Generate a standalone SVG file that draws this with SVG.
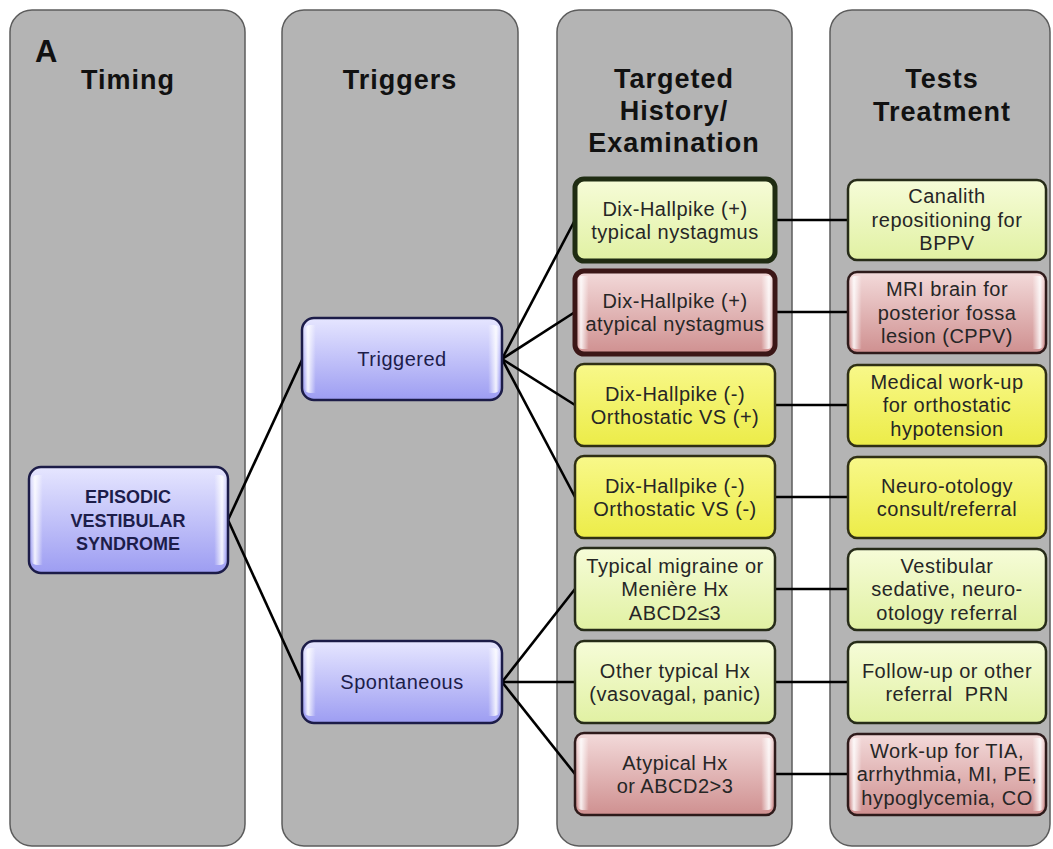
<svg xmlns="http://www.w3.org/2000/svg" width="1053" height="849" viewBox="0 0 1053 849">
<defs>
<linearGradient id="gBlue" x1="0" y1="0" x2="0" y2="1"><stop offset="0" stop-color="#e6e6ff"/><stop offset="1" stop-color="#9d9df2"/></linearGradient>
<linearGradient id="gGreen" x1="0" y1="0" x2="0" y2="1"><stop offset="0" stop-color="#f6fcd8"/><stop offset="1" stop-color="#e1f1a3"/></linearGradient>
<linearGradient id="gPink" x1="0" y1="0" x2="0" y2="1"><stop offset="0" stop-color="#f3dada"/><stop offset="1" stop-color="#cf9090"/></linearGradient>
<linearGradient id="gYellow" x1="0" y1="0" x2="0" y2="1"><stop offset="0" stop-color="#f8f88a"/><stop offset="1" stop-color="#ecec48"/></linearGradient>
<linearGradient id="gGloss" x1="0" y1="0" x2="1" y2="0"><stop offset="0" stop-color="#fff" stop-opacity="0"/><stop offset="0.02" stop-color="#fff" stop-opacity="0.85"/><stop offset="0.06" stop-color="#fff" stop-opacity="0"/><stop offset="0.94" stop-color="#fff" stop-opacity="0"/><stop offset="0.98" stop-color="#fff" stop-opacity="0.85"/><stop offset="1" stop-color="#fff" stop-opacity="0"/></linearGradient>
</defs>
<style>
.panel{fill:#b4b4b4;stroke:#5c5c5c;stroke-width:1.5}
.hdr{font-family:"Liberation Sans",Arial,sans-serif;font-weight:bold;font-size:27px;letter-spacing:1px;fill:#111;text-anchor:middle}
.lbl{font-family:"Liberation Sans",Arial,sans-serif;font-size:20px;letter-spacing:0.5px;fill:#262626;text-anchor:middle}
.blbl{font-family:"Liberation Sans",Arial,sans-serif;font-size:20px;letter-spacing:0.5px;fill:#1d1d4a;text-anchor:middle}
.bold{font-weight:bold;font-size:18px;letter-spacing:0}
.blue{fill:url(#gBlue);stroke:#1c1c48;stroke-width:2.5}
.green{fill:url(#gGreen);stroke:#262b18;stroke-width:2.5}
.pink{fill:url(#gPink);stroke:#2e1a1a;stroke-width:2.5}
.yellow{fill:url(#gYellow);stroke:#2f2f14;stroke-width:2.5}
.thickg{stroke:#1f2c12;stroke-width:5}
.thickp{stroke:#3b1616;stroke-width:5}
.gloss{fill:url(#gGloss);stroke:none}
.conn line{stroke:#000;stroke-width:2.6}
</style>

<g id="panels">
<rect class="panel" x="10" y="10" width="235" height="836" rx="22"/>
<rect class="panel" x="282" y="10" width="236" height="836" rx="22"/>
<rect class="panel" x="557" y="10" width="235" height="836" rx="22"/>
<rect class="panel" x="830" y="10" width="220" height="836" rx="22"/>
<text x="35" y="62" font-family="Liberation Sans, Arial, sans-serif" font-weight="bold" font-size="31" fill="#111">A</text>
<text class="hdr" x="128" y="89">Timing</text>
<text class="hdr" x="400" y="89">Triggers</text>
<text class="hdr" x="674" y="88">Targeted</text>
<text class="hdr" x="674" y="120">History/</text>
<text class="hdr" x="674" y="152">Examination</text>
<text class="hdr" x="942" y="88">Tests</text>
<text class="hdr" x="942" y="121">Treatment</text>
</g>

<g id="connectors" class="conn">
<line x1="228" y1="520" x2="302" y2="360"/>
<line x1="228" y1="520" x2="302" y2="682"/>
<line x1="502" y1="359" x2="575" y2="220"/>
<line x1="502" y1="359" x2="575" y2="312"/>
<line x1="502" y1="359" x2="575" y2="405"/>
<line x1="502" y1="359" x2="575" y2="497"/>
<line x1="502" y1="682" x2="575" y2="589"/>
<line x1="502" y1="682" x2="575" y2="682"/>
<line x1="502" y1="682" x2="575" y2="774"/>
<line x1="775" y1="220" x2="848" y2="220"/>
<line x1="775" y1="312" x2="848" y2="312"/>
<line x1="775" y1="405" x2="848" y2="405"/>
<line x1="775" y1="497" x2="848" y2="497"/>
<line x1="775" y1="589" x2="848" y2="589"/>
<line x1="775" y1="682" x2="848" y2="682"/>
<line x1="775" y1="774" x2="848" y2="774"/>
</g>

<g id="n-evs">
<rect class="blue" x="29" y="467" width="199" height="106" rx="12"/>
<rect class="gloss" x="31" y="475" width="195" height="90" rx="6"/>
<text class="blbl bold" x="128" y="503">EPISODIC</text>
<text class="blbl bold" x="128" y="527">VESTIBULAR</text>
<text class="blbl bold" x="128" y="550">SYNDROME</text>
</g>
<g id="n-triggered">
<rect class="blue" x="302" y="318" width="200" height="82" rx="12"/>
<rect class="gloss" x="304" y="325" width="196" height="68" rx="6"/>
<text class="blbl" x="402" y="366">Triggered</text>
</g>
<g id="n-spontaneous">
<rect class="blue" x="302" y="641" width="200" height="82" rx="12"/>
<rect class="gloss" x="304" y="648" width="196" height="68" rx="6"/>
<text class="blbl" x="402" y="689">Spontaneous</text>
</g>

<g id="h1">
<rect class="green thickg" x="575" y="179" width="200" height="82" rx="9"/>
<text class="lbl" x="675" y="216">Dix-Hallpike (+)</text>
<text class="lbl" x="675" y="239">typical nystagmus</text>
</g>
<g id="t1">
<rect class="green" x="848" y="180" width="198" height="80" rx="9"/>
<text class="lbl" x="947" y="203">Canalith</text>
<text class="lbl" x="947" y="227">repositioning for</text>
<text class="lbl" x="947" y="250">BPPV</text>
</g>

<g id="h2">
<rect class="pink thickp" x="575" y="271" width="200" height="83" rx="9"/>
<rect class="gloss" x="577" y="276" width="196" height="73" rx="5"/>
<text class="lbl" x="675" y="308">Dix-Hallpike (+)</text>
<text class="lbl" x="675" y="331">atypical nystagmus</text>
</g>
<g id="t2">
<rect class="pink" x="848" y="272" width="198" height="81" rx="9"/>
<rect class="gloss" x="850" y="276" width="194" height="73" rx="5"/>
<text class="lbl" x="947" y="296">MRI brain for</text>
<text class="lbl" x="947" y="320">posterior fossa</text>
<text class="lbl" x="947" y="343">lesion (CPPV)</text>
</g>

<g id="h3">
<rect class="yellow" x="575" y="364" width="200" height="82" rx="9"/>
<text class="lbl" x="675" y="401">Dix-Hallpike (-)</text>
<text class="lbl" x="675" y="424">Orthostatic VS (+)</text>
</g>
<g id="t3">
<rect class="yellow" x="848" y="365" width="198" height="81" rx="9"/>
<text class="lbl" x="947" y="389">Medical work-up</text>
<text class="lbl" x="947" y="412">for orthostatic</text>
<text class="lbl" x="947" y="436">hypotension</text>
</g>

<g id="h4">
<rect class="yellow" x="575" y="456" width="200" height="82" rx="9"/>
<text class="lbl" x="675" y="493">Dix-Hallpike (-)</text>
<text class="lbl" x="675" y="516">Orthostatic VS (-)</text>
</g>
<g id="t4">
<rect class="yellow" x="848" y="457" width="198" height="81" rx="9"/>
<text class="lbl" x="947" y="493">Neuro-otology</text>
<text class="lbl" x="947" y="516">consult/referral</text>
</g>

<g id="h5">
<rect class="green" x="575" y="548" width="200" height="82" rx="9"/>
<text class="lbl" x="675" y="573">Typical migraine or</text>
<text class="lbl" x="675" y="596">Menière Hx</text>
<text class="lbl" x="675" y="620">ABCD2≤3</text>
</g>
<g id="t5">
<rect class="green" x="848" y="549" width="198" height="81" rx="9"/>
<text class="lbl" x="947" y="573">Vestibular</text>
<text class="lbl" x="947" y="596">sedative, neuro-</text>
<text class="lbl" x="947" y="620">otology referral</text>
</g>

<g id="h6">
<rect class="green" x="575" y="641" width="200" height="82" rx="9"/>
<text class="lbl" x="675" y="678">Other typical Hx</text>
<text class="lbl" x="675" y="701">(vasovagal, panic)</text>
</g>
<g id="t6">
<rect class="green" x="848" y="642" width="198" height="81" rx="9"/>
<text class="lbl" x="947" y="678">Follow-up or other</text>
<text class="lbl" x="947" y="701" xml:space="preserve">referral  PRN</text>
</g>

<g id="h7">
<rect class="pink" x="575" y="733" width="200" height="82" rx="9"/>
<rect class="gloss" x="577" y="738" width="196" height="72" rx="5"/>
<text class="lbl" x="675" y="770">Atypical Hx</text>
<text class="lbl" x="675" y="793">or ABCD2&gt;3</text>
</g>
<g id="t7">
<rect class="pink" x="848" y="734" width="198" height="81" rx="9"/>
<rect class="gloss" x="850" y="738" width="194" height="73" rx="5"/>
<text class="lbl" x="947" y="758">Work-up for TIA,</text>
<text class="lbl" x="947" y="781">arrhythmia, MI, PE,</text>
<text class="lbl" x="947" y="805">hypoglycemia, CO</text>
</g>
</svg>
